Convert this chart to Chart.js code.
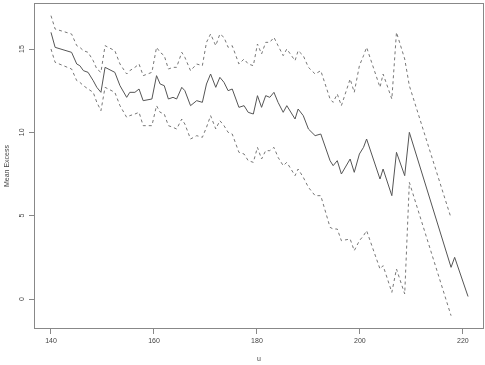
<!DOCTYPE html>
<html>
<head>
<meta charset="utf-8">
<script src="https://cdn.jsdelivr.net/npm/chart.js@4.4.1/dist/chart.umd.min.js"></script>
<style>
  html, body { margin: 0; padding: 0; background: #fff; }
  #wrap { width: 485px; height: 365px; }
</style>
</head>
<body>
<div id="wrap"><canvas id="chart" width="485" height="365"></canvas></div>
<script>
// threshold u and mean excess
const u = [140, 140.8, 144, 145, 145.6, 146.3, 147.2, 148.2, 148.9, 149.7,
  150.5, 152.4, 153.4, 154.7, 155.3, 156.3, 157.1, 157.9, 159.6, 160.5,
  161.2, 162, 162.8, 163.7, 164.4, 165.4, 166, 167.1, 168.3, 169.4,
  170.2, 171, 172, 172.8, 173.6, 174.4, 175.2, 176.5, 177.5, 178.3,
  179.3, 180.1, 180.9, 181.7, 182.5, 183.3, 184.1, 185.1, 185.8, 187.4,
  188, 189, 190, 191.3, 192.4, 194.2, 194.8, 195.6, 196.4, 198.1,
  198.9, 199.9, 200.7, 201.3, 203.9, 204.5, 206.2, 207.1, 208.7, 209.6,
  217.7, 218.4, 221];

const meanExcess = [16.0, 15.1, 14.8, 14.1, 14.0, 13.7, 13.6, 13.1, 12.7, 12.4,
  13.9, 13.6, 12.8, 12.1, 12.4, 12.4, 12.6, 11.9, 12.0, 13.4,
  12.9, 12.8, 12.0, 12.1, 12.0, 12.7, 12.5, 11.6, 11.9, 11.8,
  12.9, 13.5, 12.7, 13.3, 13.0, 12.5, 12.6, 11.5, 11.6, 11.2,
  11.1, 12.2, 11.5, 12.2, 12.1, 12.4, 11.8, 11.2, 11.6, 10.8,
  11.4, 11.0, 10.2, 9.8, 9.9, 8.3, 8.0, 8.3, 7.5, 8.4,
  7.6, 8.7, 9.1, 9.6, 7.2, 7.8, 6.2, 8.8, 7.4, 10.0,
  1.9, 2.5, 0.15];

// confidence band (stops one point before the end)
const upper = [17.0, 16.2, 15.9, 15.2, 15.1, 14.9, 14.8, 14.3, 13.8, 13.6,
  15.2, 14.9, 14.1, 13.5, 13.7, 13.9, 14.1, 13.4, 13.6, 15.1,
  14.8, 14.6, 13.8, 13.9, 13.9, 14.8, 14.5, 13.7, 14.1, 14.0,
  15.4, 15.9, 15.2, 15.9, 15.7, 15.1, 15.2, 14.1, 14.4, 14.1,
  14.0, 15.3, 14.7, 15.4, 15.4, 15.7, 15.2, 14.6, 15.0, 14.3,
  14.9, 14.6, 13.9, 13.5, 13.7, 12.0, 11.8, 12.3, 11.6, 13.2,
  12.4, 14.0, 14.6, 15.1, 12.7, 13.5, 12.0, 16.0, 14.4, 12.8,
  4.86];

const lower = [15.0, 14.2, 13.8, 13.1, 13.0, 12.8, 12.6, 12.4, 11.8, 11.3,
  12.7, 12.4, 11.6, 10.9, 11.0, 11.1, 11.2, 10.4, 10.4, 11.6,
  11.2, 11.1, 10.4, 10.3, 10.2, 10.8, 10.5, 9.6, 9.8, 9.7,
  10.3, 11.0, 10.2, 10.7, 10.4, 10.0, 9.9, 8.8, 8.7, 8.3,
  8.2, 9.1, 8.4, 8.9, 8.9, 9.1, 8.5, 8.0, 8.2, 7.4,
  7.8, 7.3, 6.7, 6.2, 6.2, 4.3, 4.2, 4.2, 3.5, 3.6,
  2.9, 3.5, 3.8, 4.1, 1.8, 2.0, 0.4, 1.8, 0.3, 7.0,
  -1.0];

const xTicks = [140, 160, 180, 200, 220];
const yTicks = [0, 5, 10, 15];

const pts = vals => vals.map((v, i) => ({ x: u[i], y: v }));

const FONT = '"Liberation Sans", Arial, sans-serif';
const INK = '#444';

// R-style frame, rotated y labels and axis titles
const rFrame = {
    id: 'rFrame',
    afterDraw(chart) {
        const { ctx, chartArea: a, scales: { y } } = chart;
        ctx.save();
        ctx.strokeStyle = '#888';
        ctx.lineWidth = 1;
        ctx.strokeRect(a.left + 0.5, a.top + 0.5, a.right - a.left - 1, a.bottom - a.top - 1);

        ctx.fillStyle = INK;
        ctx.font = '7px ' + FONT;
        ctx.textAlign = 'center';
        ctx.textBaseline = 'middle';
        yTicks.forEach(v => {
            ctx.save();
            ctx.translate(22, y.getPixelForValue(v));
            ctx.rotate(-Math.PI / 2);
            ctx.fillText(String(v), 0, 0);
            ctx.restore();
        });

        ctx.save();
        ctx.translate(7.5, (a.top + a.bottom) / 2);
        ctx.rotate(-Math.PI / 2);
        ctx.fillText('Mean Excess', 0, 0);
        ctx.restore();

        ctx.fillText('u', (a.left + a.right) / 2, 359);
        ctx.restore();
    }
};

new Chart(document.getElementById('chart'), {
    type: 'line',
    data: {
        datasets: [
            {
                label: 'mean excess',
                data: pts(meanExcess),
                borderColor: '#555',
                borderWidth: 1,
                pointRadius: 0,
                tension: 0,
            },
            {
                label: 'upper',
                data: pts(upper),
                borderColor: '#777',
                borderWidth: 1,
                borderDash: [3, 3],
                pointRadius: 0,
                tension: 0,
            },
            {
                label: 'lower',
                data: pts(lower),
                borderColor: '#777',
                borderWidth: 1,
                borderDash: [3, 3],
                pointRadius: 0,
                tension: 0,
            }
        ]
    },
    options: {
        responsive: false,
        animation: false,
        layout: { padding: { top: 3, right: 1, left: 0, bottom: 0 } },
        plugins: { legend: { display: false }, tooltip: { enabled: false } },
        scales: {
            x: {
                type: 'linear',
                min: 136.7,
                max: 224.1,
                afterFit: s => { s.height = 36; },
                afterBuildTicks: s => { s.ticks = xTicks.map(v => ({ value: v })); },
                border: { display: false },
                grid: { drawOnChartArea: false, drawTicks: true, tickLength: 5, color: '#888' },
                ticks: { color: INK, font: { family: FONT, size: 7 }, padding: 3, maxRotation: 0 }
            },
            y: {
                type: 'linear',
                min: -1.8,
                max: 17.76,
                afterFit: s => { s.width = 34; },
                afterBuildTicks: s => { s.ticks = yTicks.map(v => ({ value: v })); },
                border: { display: false },
                grid: { drawOnChartArea: false, drawTicks: true, tickLength: 5, color: '#888' },
                ticks: { display: false }
            }
        }
    },
    plugins: [rFrame]
});
</script>
</body>
</html>
